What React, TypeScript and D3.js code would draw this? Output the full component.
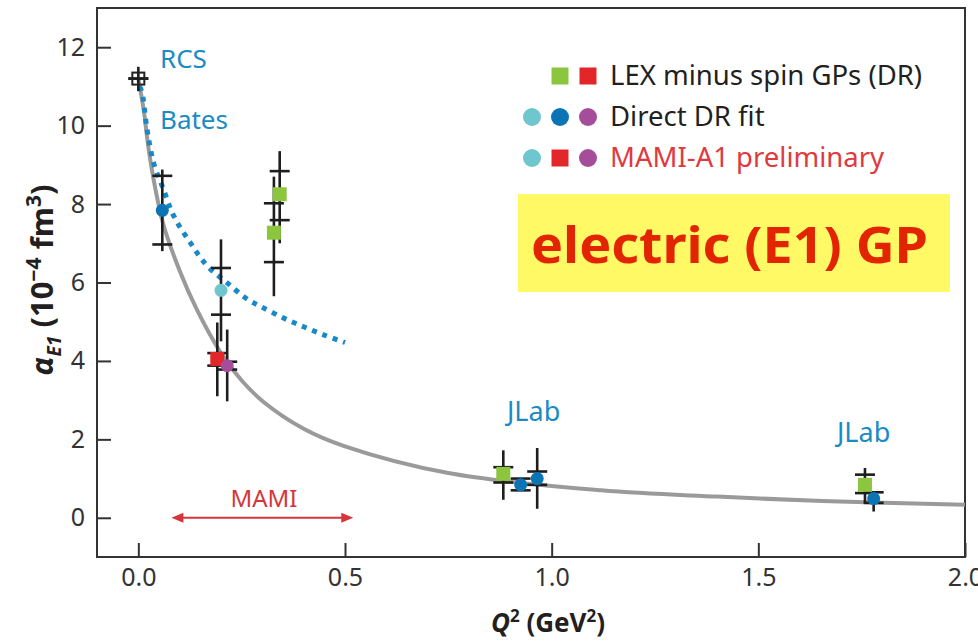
import React, { useEffect, useRef } from "react";
import * as d3 from "d3";

// ticks
const yTicks = [0, 2, 4, 6, 8, 10, 12];
const xTicks = [0, 0.5, 1.0, 1.5, 2.0];

// grey global fit curve
const fitQ2 = [0, 0.013, 0.025, 0.041, 0.06, 0.1, 0.142, 0.2, 0.25, 0.3, 0.4, 0.5, 0.75, 1.12, 1.4, 1.655, 2.0];
const fitAlpha = [11.2, 10.4, 9.4, 8.4, 7.5, 6.3, 5.3, 4.2, 3.5, 2.98, 2.27, 1.82, 1.14, 0.7, 0.54, 0.43, 0.33];

// blue dotted curve (Bates)
const batesQ2 = [0.003, 0.009, 0.021, 0.037, 0.061, 0.086, 0.126, 0.167, 0.215, 0.264, 0.296, 0.35, 0.4, 0.45, 0.5];
const batesAlpha = [11.0, 10.84, 9.91, 9.05, 8.37, 7.69, 7.01, 6.42, 5.99, 5.57, 5.39, 5.1, 4.87, 4.66, 4.47];

// data points: Q2, alpha, stat low/high (crossbars), total low/high (line), marker
const ptQ2 = [0, 0.058, 0.2, 0.191, 0.215, 0.328, 0.342, 0.883, 0.925, 0.965, 1.758, 1.779];
const ptAlpha = [11.2, 7.84, 5.8, 4.05, 3.88, 7.27, 8.25, 1.12, 0.84, 1.0, 0.84, 0.49];
const ptStatLo = [11.2, 6.97, 5.18, 3.88, 3.78, 6.52, 7.59, 0.9, 0.7, 0.84, 0.63, 0.38];
const ptStatHi = [11.2, 8.72, 6.37, 4.2, 3.98, 8.02, 8.84, 1.29, 1.0, 1.18, 1.1, 0.65];
const ptTotLo = [10.88, 6.8, 4.5, 3.1, 2.97, 5.65, 7.0, 0.46, 0.7, 0.23, 0.38, 0.16];
const ptTotHi = [11.5, 8.88, 7.1, 4.98, 4.8, 8.7, 9.35, 1.72, 1.0, 1.78, 1.27, 0.65];
const ptMarker = ["open", "c-blue", "c-cyan", "s-red", "c-mag", "s-green", "s-green", "s-green", "c-blue", "c-blue", "s-green", "c-blue"];

// legend
const legendLabels = ["LEX minus spin GPs (DR)", "Direct DR fit", "MAMI-A1 preliminary"];
const legendMarkers = [
    ["", "s-green", "s-red"],
    ["c-cyan", "c-blue", "c-mag"],
    ["c-cyan", "s-red", "c-mag"],
];
const legendColors = ["#231f20", "#231f20", "#e0393e"];

const colors: Record<string, string> = {
    green: "#8cc63f",
    red: "#e3262a",
    cyan: "#6ec6cf",
    blue: "#0b74b5",
    mag: "#a64d9a",
};

const FONT = "'Noto Sans', 'Open Sans', sans-serif";
const LABEL_BLUE = "#1a8bc4";

const App = () => {
    const ref = useRef<SVGSVGElement | null>(null);

    useEffect(() => {
        const width = 978;
        const height = 642;
        const svg = d3.select(ref.current);
        svg.selectAll("*").remove();
        svg.attr("width", width).attr("height", height);

        svg.append("rect").attr("width", width).attr("height", height).attr("fill", "#fff");

        // Scaling
        const x = d3.scaleLinear().domain([-0.1, 2.0]).range([97, 965]);
        const y = d3.scaleLinear().domain([-1, 13]).range([557, 8]);

        const drawMarker = (g: any, kind: string, cx: number, cy: number, big: boolean) => {
            if (kind === "") return;
            if (kind === "open") {
                g.append("rect")
                    .attr("x", cx - 6).attr("y", cy - 6)
                    .attr("width", 12).attr("height", 12)
                    .attr("fill", "none").attr("stroke", "#222").attr("stroke-width", 2);
                return;
            }
            const col = colors[kind.slice(2)];
            if (kind[0] === "s") {
                const s = big ? 17 : 14;
                g.append("rect")
                    .attr("x", cx - s / 2).attr("y", cy - s / 2)
                    .attr("width", s).attr("height", s)
                    .attr("fill", col);
            } else {
                g.append("circle")
                    .attr("cx", cx).attr("cy", cy)
                    .attr("r", big ? 9 : 6.5)
                    .attr("fill", col);
            }
        };

        // frame
        svg.append("rect")
            .attr("x", 97).attr("y", 8)
            .attr("width", 868).attr("height", 549)
            .attr("fill", "none").attr("stroke", "#333").attr("stroke-width", 2);

        // Axes
        const yAxis = svg.append("g")
            .attr("transform", "translate(97,0)")
            .call(d3.axisLeft(y).tickValues(yTicks).tickSize(-14).tickPadding(12).tickFormat(d3.format("d")));
        const xAxis = svg.append("g")
            .attr("transform", "translate(0,557)")
            .call(d3.axisBottom(x).tickValues(xTicks).tickSize(-14).tickPadding(11).tickFormat(d3.format(".1f")));
        [yAxis, xAxis].forEach((a) => {
            a.select(".domain").remove();
            a.selectAll("line").attr("stroke", "#333").attr("stroke-width", 2);
            a.selectAll("text")
                .attr("font-family", FONT)
                .attr("font-size", 25)
                .attr("fill", "#333");
        });

        // curves
        const line = d3.line<number>()
            .x((d, i) => x(fitQ2[i]))
            .y((d) => y(d))
            .curve(d3.curveCatmullRom.alpha(0.5));
        svg.append("path")
            .attr("d", line(fitAlpha))
            .attr("fill", "none")
            .attr("stroke", "#9a9a9a")
            .attr("stroke-width", 4);

        const dotted = d3.line<number>()
            .x((d, i) => x(batesQ2[i]))
            .y((d) => y(d))
            .curve(d3.curveCatmullRom.alpha(0.5));
        svg.append("path")
            .attr("d", dotted(batesAlpha))
            .attr("fill", "none")
            .attr("stroke", "#1889c7")
            .attr("stroke-width", 5)
            .attr("stroke-dasharray", "5 6");

        // error bars
        const eb = svg.append("g").attr("stroke", "#1e1e1e").attr("stroke-width", 2.6);
        ptQ2.forEach((q, i) => {
            const cx = x(q);
            eb.append("line").attr("x1", cx).attr("x2", cx).attr("y1", y(ptTotLo[i])).attr("y2", y(ptTotHi[i]));
            [ptStatLo[i], ptStatHi[i]].forEach((v) => {
                eb.append("line").attr("x1", cx - 10).attr("x2", cx + 10).attr("y1", y(v)).attr("y2", y(v));
            });
        });

        // markers
        const mk = svg.append("g");
        ptQ2.forEach((q, i) => drawMarker(mk, ptMarker[i], x(q), y(ptAlpha[i]), false));

        // annotations
        const label = (txt: string, px: number, py: number, fill: string, size: number, anchor = "start") =>
            svg.append("text")
                .attr("x", px).attr("y", py)
                .attr("font-family", FONT).attr("font-size", size)
                .attr("text-anchor", anchor)
                .attr("fill", fill)
                .text(txt);
        label("RCS", 160, 68, LABEL_BLUE, 26);
        label("Bates", 160, 129, LABEL_BLUE, 26);
        label("JLab", 507, 421, LABEL_BLUE, 27);
        label("JLab", 837, 442, LABEL_BLUE, 27);
        label("MAMI", 264, 507, "#d6363b", 24, "middle");

        // MAMI arrow
        const ay = y(0);
        const ax1 = x(0.08);
        const ax2 = x(0.52);
        svg.append("line")
            .attr("x1", ax1 + 4).attr("x2", ax2 - 4).attr("y1", ay).attr("y2", ay)
            .attr("stroke", "#d6363b").attr("stroke-width", 2);
        svg.append("path")
            .attr("d", `M${ax1},${ay} l12,-5 l0,10 Z M${ax2},${ay} l-12,-5 l0,10 Z`)
            .attr("fill", "#d6363b");

        // legend
        const legX = [532, 560, 588];
        const legY = [76, 117, 158];
        const lg = svg.append("g");
        legendLabels.forEach((t, r) => {
            legendMarkers[r].forEach((m, c) => drawMarker(lg, m, legX[c], legY[r], true));
            lg.append("text")
                .attr("x", 610).attr("y", legY[r] + 9)
                .attr("font-family", FONT).attr("font-size", 27.5)
                .attr("fill", legendColors[r])
                .text(t);
        });

        // highlighted box
        svg.append("rect")
            .attr("x", 518).attr("y", 194)
            .attr("width", 432).attr("height", 98)
            .attr("fill", "#fff966");
        svg.append("text")
            .attr("x", 531).attr("y", 263)
            .attr("font-family", FONT).attr("font-size", 50).attr("font-weight", "bold")
            .attr("fill", "#e32400")
            .attr("textLength", 397)
            .attr("lengthAdjust", "spacingAndGlyphs")
            .text("electric (E1) GP");

        // y label
        const yl = svg.append("text")
            .attr("transform", "translate(53,280) rotate(-90)")
            .attr("text-anchor", "middle")
            .attr("font-family", FONT).attr("font-size", 31).attr("font-weight", "bold")
            .attr("fill", "#231f20");
        yl.append("tspan").attr("font-style", "italic").text("α");
        yl.append("tspan").attr("font-style", "italic").attr("font-size", 19).attr("dy", 8).text("E1");
        yl.append("tspan").attr("dy", -8).text(" (10");
        yl.append("tspan").attr("font-size", 21).attr("dy", -12).text("−4");
        yl.append("tspan").attr("dy", 12).text(" fm");
        yl.append("tspan").attr("font-size", 21).attr("dy", -12).text("3");
        yl.append("tspan").attr("dy", 12).text(")");

        // x label
        const xl = svg.append("text")
            .attr("x", 548).attr("y", 632)
            .attr("text-anchor", "middle")
            .attr("font-family", FONT).attr("font-size", 26).attr("font-weight", "bold")
            .attr("fill", "#231f20");
        xl.append("tspan").attr("font-style", "italic").text("Q");
        xl.append("tspan").attr("font-size", 17).attr("dy", -10).text("2");
        xl.append("tspan").attr("dy", 10).text(" (GeV");
        xl.append("tspan").attr("font-size", 17).attr("dy", -10).text("2");
        xl.append("tspan").attr("dy", 10).text(")");
    }, []);

    return (
        <div style={{ position: "absolute", left: 0, top: 0 }}>
            <svg ref={ref} style={{ display: "block" }}></svg>
        </div>
    );
};

export default App;
